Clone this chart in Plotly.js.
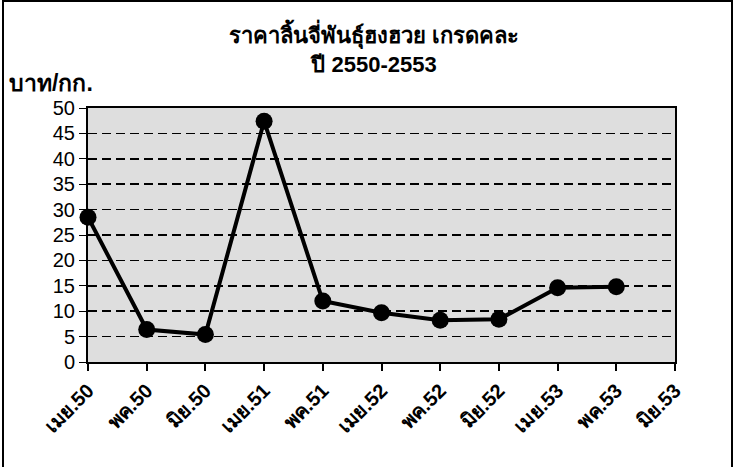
<!DOCTYPE html>
<html>
<head>
<meta charset="utf-8">
<script src="https://cdn.plot.ly/plotly-3.0.1.min.js"></script>
<style>html,body{margin:0;padding:0;background:#fff;}#chart{width:748px;height:467px;}</style>
</head>
<body>
<div id="chart"></div>
<script>
const categories = ["เมย.50","พค.50","มิย.50","เมย.51","พค.51","เมย.52","พค.52","มิย.52","เมย.53","พค.53","มิย.53"];
const prices = [28.5, 6.4, 5.4, 47.4, 12.0, 9.7, 8.2, 8.4, 14.6, 14.8, null];
const yTicks = [0,5,10,15,20,25,30,35,40,45,50];
const titleText = "<b>ราคาลิ้นจี่พันธุ์ฮงฮวย เกรดคละ<br>ปี 2550-2553</b>";
const yTitleText = "<b>บาท/กก.</b>";

const W = 748, H = 467;
const font = "Liberation Sans, Arial, sans-serif";

const trace = {
  x: categories,
  y: prices,
  type: "scatter",
  mode: "lines+markers",
  line: {color: "#000", width: 4},
  marker: {color: "#000", size: 17},
  cliponaxis: false,
  connectgaps: false,
  hoverinfo: "x+y"
};

const layout = {
  width: W, height: H,
  margin: {l: 88, r: 73, t: 108, b: 105, pad: 0},
  paper_bgcolor: "#fff",
  plot_bgcolor: "#dedede",
  showlegend: false,
  font: {family: font, color: "#000"},
  title: {text: titleText, font: {family: font, size: 22, color: "#000"}, x: 0.5, xanchor: "center", y: 1 - 43/H, yanchor: "top"},
  xaxis: {
    type: "category",
    range: [0, 10],
    tickangle: -45,
    ticks: "outside", ticklen: 7, tickwidth: 2, tickcolor: "#000",
    showline: true, linecolor: "#000", linewidth: 2, mirror: true,
    showgrid: false, zeroline: false,
    tickprefix: "<b>", ticksuffix: "</b>",
    tickfont: {family: font, size: 20, color: "#000"},
    fixedrange: true
  },
  yaxis: {
    range: [0, 50],
    tickvals: yTicks,
    ticktext: yTicks.map(String),
    ticks: "outside", ticklen: 7, tickwidth: 1, tickcolor: "#000",
    showline: true, linecolor: "#000", linewidth: 2, mirror: true,
    showgrid: true, gridcolor: "#000", gridwidth: 1.5, griddash: "9px,5px",
    zeroline: false,
    tickfont: {family: font, size: 20, color: "#000"},
    fixedrange: true
  },
  annotations: [{
    text: yTitleText, xref: "paper", yref: "paper",
    x: -81/587, y: 1 + 10/254, xanchor: "left", yanchor: "bottom",
    showarrow: false, font: {family: font, size: 23, color: "#000"}
  }],
  shapes: [{
    type: "rect", xref: "paper", yref: "paper",
    x0: (3-88)/587, x1: (732-88)/587,
    y0: -(470-362)/254, y1: 1 + (108-1)/254,
    line: {color: "#000", width: 2}, fillcolor: "rgba(0,0,0,0)", layer: "below"
  }]
};

Plotly.newPlot("chart", [trace], layout, {displayModeBar: false, staticPlot: true});
</script>
</body>
</html>
